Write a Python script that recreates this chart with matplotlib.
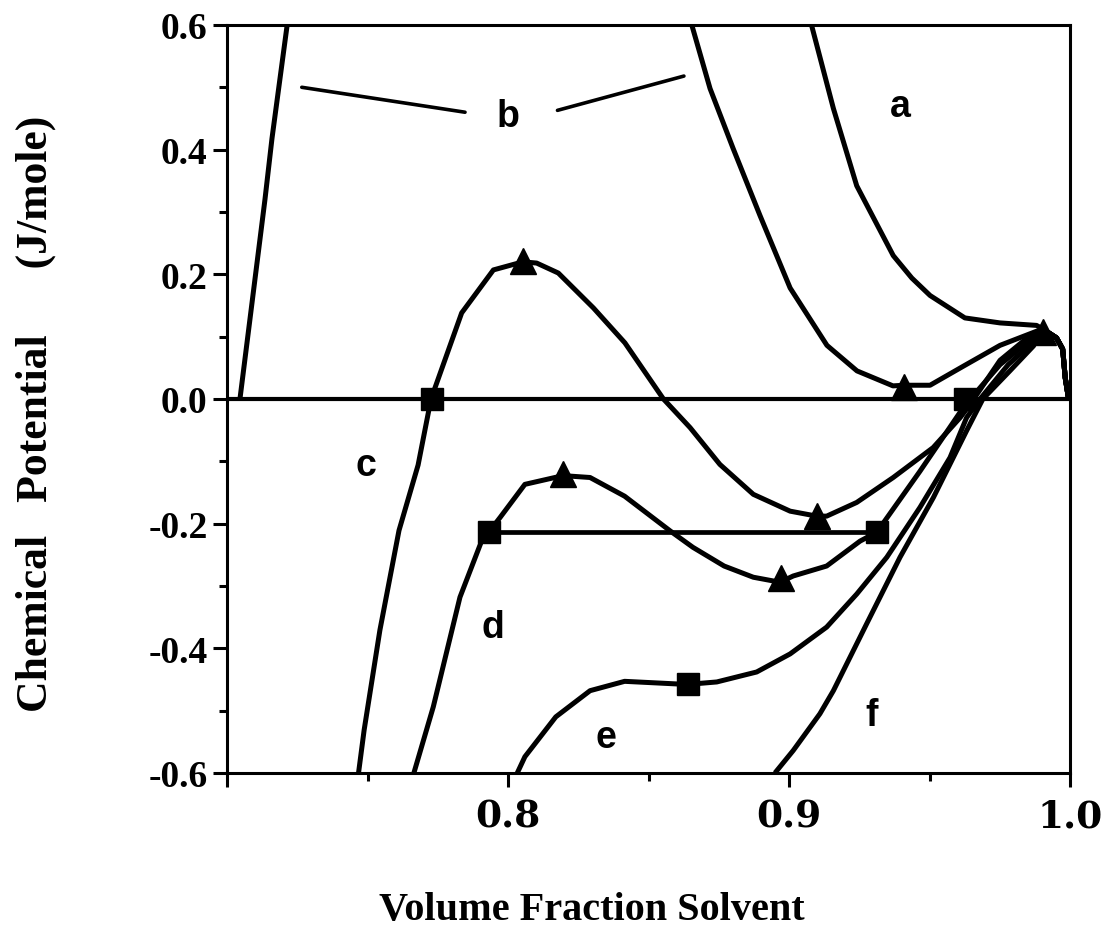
import matplotlib
matplotlib.use("Agg")
import matplotlib.pyplot as plt
from matplotlib.ticker import FixedLocator, FixedFormatter

# ---------------- data ----------------
a_x = [0.9080, 0.9158, 0.9241, 0.9371, 0.9437, 0.9502, 0.9626, 0.9751, 0.9881]
a_y = [0.600, 0.466, 0.342, 0.230, 0.194, 0.166, 0.130, 0.122, 0.118]

b_left_x = [0.7046, 0.7135, 0.7160, 0.7214]
b_left_y = [0.000, 0.320, 0.418, 0.600]

b_right_x = [0.8654, 0.8719, 0.8801, 0.8897, 0.9004, 0.9135, 0.9242, 0.9370,
             0.9409, 0.9502, 0.9626, 0.9751, 0.9883]
b_right_y = [0.600, 0.498, 0.402, 0.294, 0.178, 0.086, 0.045, 0.021,
             0.022, 0.022, 0.054, 0.086, 0.109]

c_x = [0.7468, 0.7488, 0.7544, 0.7612, 0.7680, 0.7726, 0.7835, 0.7948, 0.8053,
       0.8102, 0.8179, 0.8304, 0.8416, 0.8553, 0.8648, 0.8754, 0.8873, 0.9004,
       0.9099, 0.9134, 0.9241, 0.9371, 0.9513, 0.9609, 0.9644, 0.9751, 0.9848]
c_y = [-0.600, -0.531, -0.371, -0.211, -0.106, 0.000, 0.138, 0.207, 0.220,
       0.218, 0.202, 0.146, 0.090, 0.000, -0.046, -0.105, -0.153, -0.180,
       -0.188, -0.188, -0.166, -0.126, -0.078, -0.030, -0.009, 0.062, 0.098]

d_x = [0.7665, 0.7734, 0.7829, 0.7911, 0.7931, 0.7972, 0.8060, 0.8196, 0.8292,
       0.8415, 0.8578, 0.8658, 0.8769, 0.8873, 0.8968, 0.9015, 0.9134, 0.9253,
       0.9312, 0.9466, 0.9626, 0.9751, 0.9857]
d_y = [-0.600, -0.494, -0.318, -0.222, -0.214, -0.190, -0.137, -0.123, -0.126,
       -0.156, -0.212, -0.238, -0.268, -0.286, -0.294, -0.284, -0.268, -0.228,
       -0.214, -0.116, -0.010, 0.055, 0.094]

e_x = [0.8033, 0.8060, 0.8170, 0.8292, 0.8415, 0.8637, 0.8743, 0.8885, 0.9004,
       0.9134, 0.9241, 0.9348, 0.9466, 0.9573, 0.9632, 0.9680, 0.9780, 0.9865]
e_y = [-0.600, -0.574, -0.510, -0.468, -0.453, -0.458, -0.454, -0.438, -0.409,
       -0.366, -0.313, -0.254, -0.174, -0.094, -0.030, 0.000, 0.055, 0.090]

f_x = [0.8950, 0.9015, 0.9110, 0.9158, 0.9276, 0.9395, 0.9514, 0.9632, 0.9690,
       0.9786, 0.9870]
f_y = [-0.600, -0.564, -0.505, -0.468, -0.361, -0.254, -0.158, -0.051, 0.000,
       0.045, 0.085]

# shared end of all curves (meeting point and drop to zero at phi = 1)
tail_x = [0.9904, 0.9952, 0.9974, 0.9983, 0.9995]
tail_y = [0.112, 0.098, 0.080, 0.034, 0.000]

# tie line of curve d
tie_d_x = [0.7931, 0.9312]
tie_d_y = [-0.214, -0.214]

# markers
tri_x = [0.8053, 0.9099, 0.8197, 0.8972, 0.9409, 0.9904]
tri_y = [0.222, -0.187, -0.120, -0.288, 0.019, 0.107]
sq_x = [0.7728, 0.9626, 0.7931, 0.9312, 0.8642]
sq_y = [0.000, 0.000, -0.214, -0.214, -0.458]

# curve labels
label_text = ['a', 'b', 'c', 'd', 'e', 'f']
label_x = [0.9395, 0.8001, 0.7495, 0.7945, 0.8347, 0.9294]
label_y = [0.4544, 0.4384, -0.1216, -0.3824, -0.5584, -0.5232]

# leader lines for label b
lead1_x = [0.7266, 0.7847]
lead1_y = [0.500, 0.460]
lead2_x = [0.8176, 0.8626]
lead2_y = [0.463, 0.518]

x_major = [0.7, 0.8, 0.9, 1.0]
x_major_labels = ['', '0.8', '0.9', '1.0']
x_minor = [0.75, 0.85, 0.95]
y_major = [-0.6, -0.4, -0.2, 0.0, 0.2, 0.4, 0.6]
y_major_labels = ['-0.6', '-0.4', '-0.2', '0.0', '0.2', '0.4', '0.6']
y_minor = [-0.5, -0.3, -0.1, 0.1, 0.3, 0.5]

# ---------------- figure ----------------
fig = plt.figure(figsize=(11.08, 9.37), dpi=100)
ax = fig.add_axes([0.2049, 0.174, 0.9657 - 0.2049, 0.9723 - 0.174])

LW = 3.6
kw = dict(color='black', lw=LW, solid_joinstyle='round', solid_capstyle='butt')

ax.axhline(0.0, color='black', lw=3.0)

ax.plot(a_x + tail_x, a_y + tail_y, **kw)
ax.plot(b_left_x, b_left_y, **kw)
ax.plot(b_right_x + tail_x, b_right_y + tail_y, **kw)
ax.plot(c_x + tail_x, c_y + tail_y, **kw)
ax.plot(d_x + tail_x, d_y + tail_y, **kw)
ax.plot(e_x + tail_x, e_y + tail_y, **kw)
ax.plot(f_x + tail_x, f_y + tail_y, **kw)
ax.plot(tie_d_x, tie_d_y, color='black', lw=3.4)

ax.plot(tri_x, tri_y, linestyle='none', marker='^', ms=19, color='black')
ax.plot(sq_x, sq_y, linestyle='none', marker='s', ms=16.5, color='black')

ax.plot(lead1_x, lead1_y, color='black', lw=2.6, solid_capstyle='round')
ax.plot(lead2_x, lead2_y, color='black', lw=2.6, solid_capstyle='round')

for t, x, y in zip(label_text, label_x, label_y):
    ax.text(x, y, t, ha='center', va='baseline', fontsize=27,
            fontweight='bold', family='Liberation Sans')

ax.set_xlim(0.7, 1.0)
ax.set_ylim(-0.6, 0.6)

for s in ax.spines.values():
    s.set_linewidth(2.2)

ax.xaxis.set_major_locator(FixedLocator(x_major))
ax.xaxis.set_major_formatter(FixedFormatter(x_major_labels))
ax.xaxis.set_minor_locator(FixedLocator(x_minor))
ax.yaxis.set_major_locator(FixedLocator(y_major))
ax.yaxis.set_major_formatter(FixedFormatter(y_major_labels))
ax.yaxis.set_minor_locator(FixedLocator(y_minor))

ax.tick_params(axis='both', which='major', direction='out', length=10, width=2.2)
ax.tick_params(axis='both', which='minor', direction='out', length=6, width=2.2)
ax.tick_params(axis='x', which='major', pad=8)
ax.tick_params(axis='y', which='major', pad=4)

for lab in ax.get_xticklabels():
    lab.set_fontfamily('DejaVu Serif')
    lab.set_fontweight('bold')
    lab.set_fontsize(27)
for lab in ax.get_yticklabels():
    lab.set_fontfamily('Liberation Serif')
    lab.set_fontweight('bold')
    lab.set_fontsize(27)

fig.text(47 / 1108, 1 - 414 / 937, 'Chemical   Potential      (J/mole)',
         rotation=90, rotation_mode='anchor', ha='center', va='baseline',
         fontsize=31.5, fontweight='bold', family='Liberation Serif')
fig.text(592 / 1108, 1 - 920 / 937, 'Volume Fraction Solvent',
         ha='center', va='baseline', fontsize=29, fontweight='bold',
         family='Liberation Serif')

fig.savefig('out.png', dpi=100)
